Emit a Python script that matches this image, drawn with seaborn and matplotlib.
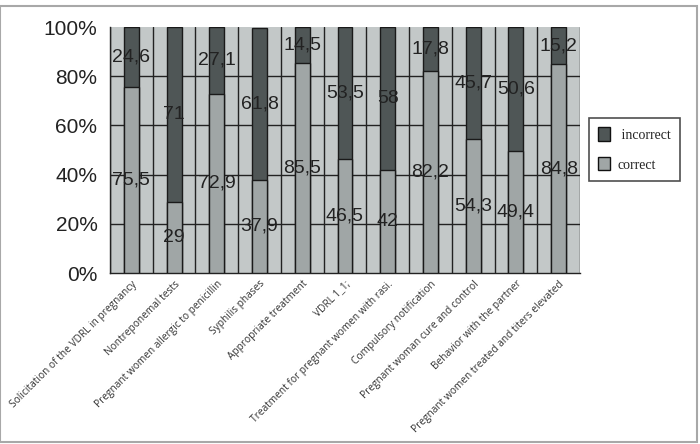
import matplotlib
matplotlib.use("Agg")
import matplotlib.pyplot as plt
import seaborn as sns
import pandas as pd
import numpy as np
from matplotlib.patches import Rectangle, Patch

categories = [
    "Solicitation of the VDRL in pregnancy",
    "Nontreponemal tests",
    "Pregnant women allergic to penicillin",
    "Syphilis phases",
    "Appropriate treatment",
    "VDRL 1_1;",
    "Treatment for pregnant women with rasi.",
    "Compulsory notification",
    "Pregnant woman cure and control",
    "Behavior with the partner",
    "Pregnant women treated and titers elevated",
]
correct = [75.5, 29, 72.9, 37.9, 85.5, 46.5, 42, 82.2, 54.3, 49.4, 84.8]
incorrect = [24.6, 71, 27.1, 61.8, 14.5, 53.5, 58, 17.8, 45.7, 50.6, 15.2]
yticks = [0, 20, 40, 60, 80, 100]
ytick_labels = ["0%", "20%", "40%", "60%", "80%", "100%"]

bg = "#c3c8c8"
c_correct = "#a0a6a6"
c_incorrect = "#4f5656"

sns.set_theme(style="white")
plt.rcParams["font.family"] = ["Liberation Sans", "DejaVu Sans"]

df = pd.DataFrame({"cat": categories, "correct": correct, "incorrect": incorrect})
df["total"] = df["correct"] + df["incorrect"]

fig = plt.figure(figsize=(7, 4.44), dpi=100)
ax = fig.add_axes([110 / 700, 1 - 273 / 444, 470 / 700, 246 / 444])
ax.set_facecolor(bg)

sns.barplot(data=df, x="cat", y="total", color=c_incorrect, width=0.35,
            edgecolor="#1a1a1a", linewidth=1.0, ax=ax, saturation=1, zorder=3)
sns.barplot(data=df, x="cat", y="correct", color=c_correct, width=0.35,
            edgecolor="#1a1a1a", linewidth=1.0, ax=ax, saturation=1, zorder=3)

n = len(categories)
ax.set_xlim(-0.5, n - 0.5)
ax.set_ylim(0, 100)

# grid lines
for y in yticks[1:-1]:
    ax.axhline(y, color="#222222", lw=1.0, zorder=1)
for b in np.arange(-0.5, n, 1.0):
    ax.axvline(b, color="#222222", lw=1.0, zorder=1)

def fmt(v):
    return ("%g" % v).replace(".", ",")

for i, (c, w) in enumerate(zip(correct, incorrect)):
    ax.text(i, c / 2, fmt(c), ha="center", va="center", fontsize=14,
            color="#222222", zorder=5)
    top = min(c + w, 100)
    ax.text(i, (c + top) / 2, fmt(w), ha="center", va="center", fontsize=14,
            color="#222222", zorder=5)

ax.set_yticks(yticks)
ax.set_yticklabels(ytick_labels, fontsize=15, color="#222222")
ax.set_xticks(np.arange(-0.5, n, 1.0), minor=False)
ax.set_xticklabels([])
ax.set_xticks(np.arange(n), minor=True)
ax.set_xticklabels(categories, minor=True, rotation=45, ha="right",
                   rotation_mode="anchor", fontsize=7.3, color="#333333",
                   family=["Open Sans", "DejaVu Sans"])
ax.tick_params(axis="x", which="minor", length=0, pad=4)
ax.tick_params(axis="x", which="major", length=5, width=1, color="#222222", direction="out")
ax.tick_params(axis="y", length=6, width=1, color="#222222", direction="out", pad=3)
ax.set_xlabel("")
ax.set_ylabel("")

for s in ["top", "right"]:
    ax.spines[s].set_visible(False)
for s in ["left", "bottom"]:
    ax.spines[s].set_color("#222222")
    ax.spines[s].set_linewidth(1.0)

handles = [Patch(facecolor=c_incorrect, edgecolor="#111111", label=" incorrect"),
           Patch(facecolor=c_correct, edgecolor="#111111", label="correct")]
leg = fig.legend(handles=handles, loc="center", bbox_to_anchor=(634.5 / 700, 1 - 149.5 / 444),
                 frameon=True, fancybox=False, handlelength=0.8, handleheight=1.1,
                 labelspacing=1.1, borderpad=0.7, handletextpad=0.6,
                 prop={"family": "Liberation Serif", "size": 10})
leg.get_frame().set_edgecolor("#222222")
leg.get_frame().set_linewidth(1.2)

fig.patches.append(Rectangle((0.0, 0.005), 0.995, 0.982, transform=fig.transFigure,
                             fill=False, edgecolor="#a8a8a8", lw=1.5))

fig.savefig("out.png", dpi=100, facecolor="white")
